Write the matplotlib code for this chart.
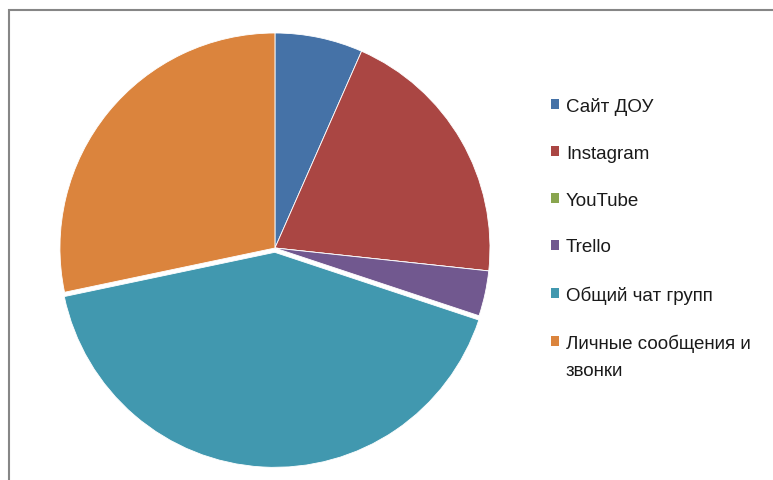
import matplotlib
matplotlib.use('Agg')
import matplotlib.pyplot as plt
from matplotlib.patches import Patch, Rectangle

# data (percent of answers)
labels = ['Сайт ДОУ', 'Instagram', 'YouTube', 'Trello', 'Общий чат групп',
          'Личные сообщения и\nзвонки']
values = [6.6, 20.1, 0.0, 3.4, 41.6, 28.3]
colors = ['#4572A7', '#AA4643', '#89A54E', '#71588F', '#4198AF', '#DB843D']
explode = [0, 0, 0, 0, 0.02, 0]

plt.rcParams['font.family'] = ['Liberation Sans', 'DejaVu Sans']

fig = plt.figure(figsize=(7.73, 4.81), dpi=100)

# chart border (only top and left visible, the rest is cut off)
fig.patches.append(Rectangle((9 / 773, -0.1), 1.2, 1 - 11 / 481 + 0.1,
                             transform=fig.transFigure, fill=False,
                             edgecolor='#868686', linewidth=1.5))

ax = fig.add_axes([0.0692, 0.0218, 0.573, 0.921])
ax.pie(values, colors=colors, explode=explode, startangle=90, counterclock=False,
       wedgeprops={'edgecolor': 'white', 'linewidth': 0.6})
ax.set_xlim(-1.03, 1.03)
ax.set_ylim(-1.03, 1.03)
ax.set_aspect('equal')
ax.axis('off')

# legend: wrapped labels keep the marker on the first line, like Excel does
first_lines = [s.split('\n')[0] for s in labels]
handles = [Patch(facecolor=c, edgecolor='none') for c in colors]
leg = fig.legend(handles, first_lines, loc='upper left', bbox_to_anchor=(551 / 773, 1 - 98 / 481),
                 frameon=False, fontsize=13.5, handlelength=0.45, handleheight=0.45,
                 handletextpad=0.35, labelspacing=1.59, borderpad=0, borderaxespad=0)
for t in leg.get_texts():
    t.set_color('#1a1a1a')

fig.canvas.draw()
for s, t in zip(labels, leg.get_texts()):
    rest = s.split('\n')[1:]
    if rest:
        bb = t.get_window_extent()
        fig.text(bb.x0 / fig.bbox.width, (bb.y0 - 27) / fig.bbox.height,
                 '\n'.join(rest), fontsize=13.5, color='#1a1a1a', va='bottom', ha='left')

fig.savefig('out.png', dpi=100)
